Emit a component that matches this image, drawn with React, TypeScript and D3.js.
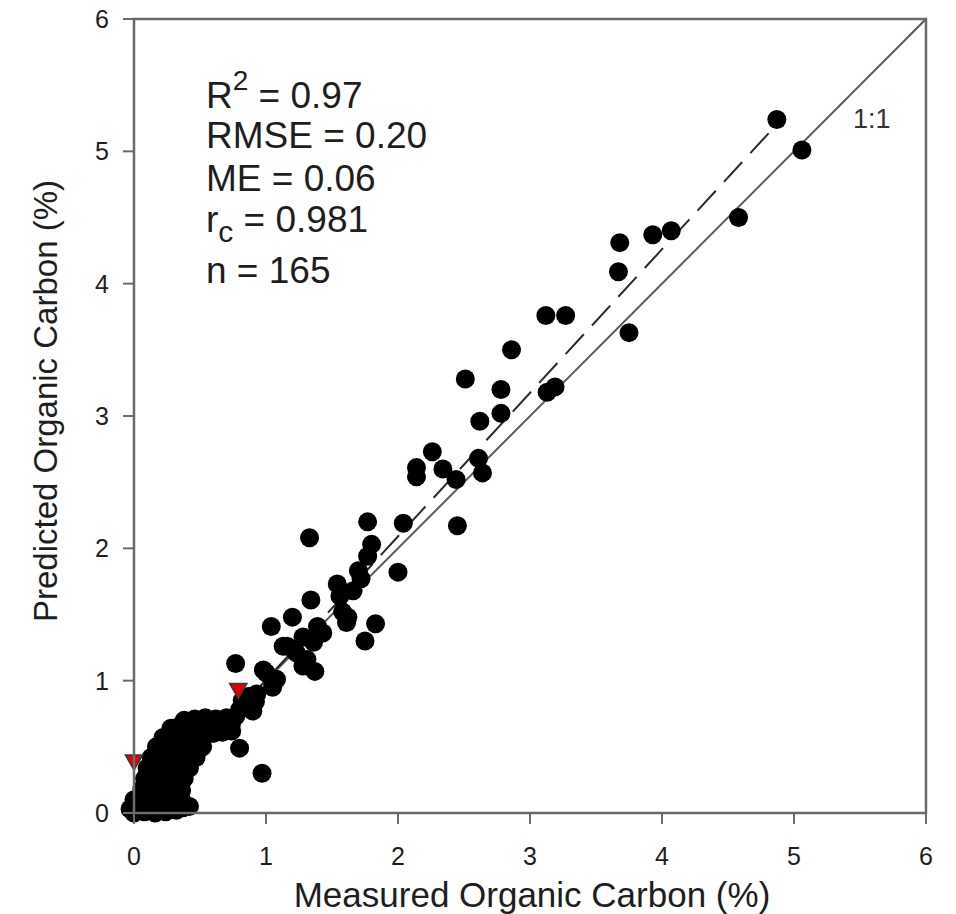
import React from 'react';
import * as d3 from 'd3';

// Measured (x) and predicted (y) organic carbon, %
const measured = [
  4.87, 5.06, 4.58, 3.68, 3.93, 4.07, 3.67, 3.12, 3.27, 3.75,
  2.86, 2.51, 2.78, 3.13, 3.19, 2.62, 2.78, 2.26, 2.14, 2.14,
  2.34, 2.44, 2.61, 2.64, 2.04, 2.45, 2.00, 1.33, 1.77, 1.80,
  1.77, 1.70, 1.72, 1.54, 1.56, 1.34, 1.58, 1.61, 1.83, 1.75,
  1.20, 1.04, 1.39, 1.43, 1.28, 1.13, 1.36, 1.23, 1.37, 1.28,
  0.98, 1.08, 1.05, 0.88, 0.77, 0.97, 1.62, 1.66, 1.16, 1.31,
  1.00, 0.80, 0.92,
  -0.03, 0.00, 0.04, 0.08, 0.12, 0.16, 0.20, 0.24, 0.28, 0.32, 0.37, 0.42,
  0.00, 0.05, 0.10, 0.15, 0.20, 0.25, 0.30,
  0.06, 0.10, 0.14, 0.19, 0.24, 0.30, 0.36,
  0.08, 0.12, 0.17, 0.22, 0.27, 0.33, 0.38,
  0.10, 0.14, 0.19, 0.25, 0.31, 0.37, 0.42,
  0.13, 0.18, 0.23, 0.29, 0.35, 0.41, 0.47,
  0.17, 0.22, 0.28, 0.34, 0.40, 0.46, 0.52,
  0.22, 0.28, 0.34, 0.40, 0.47, 0.54, 0.60, 0.67, 0.74,
  0.28, 0.35, 0.42, 0.50, 0.58, 0.66, 0.74,
  0.38, 0.46, 0.54, 0.62, 0.70, 0.77,
  0.80, 0.85, 0.90,
  0.82, 0.87, 0.93,
  0.05, 0.10, 0.15, 0.20, 0.25, 0.12, 0.18, 0.22, 0.28, 0.20,
  0.24, 0.30, 0.36, 0.44, 0.50, 0.58, 0.64, 0.36,
];
const predicted = [
  5.24, 5.01, 4.50, 4.31, 4.37, 4.40, 4.09, 3.76, 3.76, 3.63,
  3.50, 3.28, 3.20, 3.18, 3.22, 2.96, 3.02, 2.73, 2.61, 2.54,
  2.60, 2.52, 2.68, 2.57, 2.19, 2.17, 1.82, 2.08, 2.20, 2.03,
  1.94, 1.83, 1.77, 1.73, 1.64, 1.61, 1.52, 1.44, 1.43, 1.30,
  1.48, 1.41, 1.41, 1.36, 1.33, 1.26, 1.29, 1.21, 1.07, 1.11,
  1.08, 1.01, 0.95, 0.88, 1.13, 0.30, 1.48, 1.68, 1.26, 1.16,
  1.06, 0.49, 0.84,
  0.03, 0.00, 0.04, 0.01, 0.03, 0.00, 0.02, 0.01, 0.03, 0.02, 0.04, 0.05,
  0.10, 0.12, 0.09, 0.11, 0.10, 0.12, 0.09,
  0.18, 0.20, 0.17, 0.19, 0.18, 0.20, 0.17,
  0.26, 0.28, 0.25, 0.27, 0.26, 0.28, 0.26,
  0.34, 0.36, 0.33, 0.35, 0.34, 0.36, 0.34,
  0.42, 0.44, 0.41, 0.43, 0.42, 0.44, 0.42,
  0.50, 0.52, 0.49, 0.51, 0.50, 0.52, 0.50,
  0.57, 0.59, 0.58, 0.60, 0.59, 0.61, 0.60, 0.61, 0.62,
  0.64, 0.66, 0.65, 0.67, 0.66, 0.67, 0.68,
  0.70, 0.71, 0.72, 0.71, 0.72, 0.73,
  0.78, 0.80, 0.77,
  0.85, 0.88, 0.90,
  0.06, 0.05, 0.06, 0.06, 0.07, 0.14, 0.14, 0.22, 0.30, 0.30,
  0.38, 0.46, 0.54, 0.56, 0.62, 0.68, 0.64, 0.10,
];

// Flagged samples (red triangles)
const flaggedMeasured = [0.0, 0.79];
const flaggedPredicted = [0.40, 0.94];

const xTicks = [0, 1, 2, 3, 4, 5, 6];
const yTicks = [0, 1, 2, 3, 4, 5, 6];

// Fitted regression line (dashed)
const fitSlope = 1.085;
const fitIntercept = -0.08;
const fitRange = [0.07, 4.87];

const xTitle = 'Measured Organic Carbon (%)';
const yTitle = 'Predicted Organic Carbon (%)';

const W = 956;
const H = 914;
const FONT = '"Liberation Sans", Arial, Helvetica, sans-serif';

export default function App() {
  const x = d3.scaleLinear().domain([0, 6]).range([134, 926]);
  const y = d3.scaleLinear().domain([0, 6]).range([813, 19]);
  const [x0, x1] = x.range();
  const [y0, y1] = y.range();

  const line = d3.line<[number, number]>().x((d) => x(d[0])).y((d) => y(d[1]));
  const oneToOne = line([[0, 0], [6, 6]]) || '';
  const fit = line(fitRange.map((v) => [v, fitSlope * v + fitIntercept] as [number, number])) || '';

  const tri = d3.symbol().type(d3.symbolTriangle).size(130)() || '';

  const axisColor = '#6b6b6b';
  const textColor = '#1e1e1e';

  return (
    <svg
      width={W}
      height={H}
      style={{ position: 'absolute', left: 0, top: 0, background: '#fff' }}
      fontFamily={FONT}
    >
      <rect x={0} y={0} width={W} height={H} fill="#fff" />
      {/* 1:1 line */}
      <path d={oneToOne} stroke="#5a5a5a" strokeWidth={2} fill="none" />
      {/* regression line */}
      <path d={fit} stroke="#2a2a2a" strokeWidth={2} fill="none" strokeDasharray="27,12" />

      {/* points */}
      <g fill="#000">
        {measured.map((m, i) => (
          <circle key={i} cx={x(m)} cy={y(predicted[i])} r={9.5} />
        ))}
      </g>
      {flaggedMeasured.map((m, i) => (
        <path
          key={'f' + i}
          d={tri}
          transform={`translate(${x(m)},${y(flaggedPredicted[i])}) rotate(180)`}
          fill="#e00000"
          stroke="#3a3a3a"
          strokeWidth={1.5}
        />
      ))}

      {/* frame */}
      <rect x={x0} y={y1} width={x1 - x0} height={y0 - y1} fill="none" stroke={axisColor} strokeWidth={2.5} />

      {/* x ticks */}
      {xTicks.map((t) => (
        <g key={'xt' + t}>
          <line x1={x(t)} x2={x(t)} y1={y0} y2={y0 + 11} stroke={axisColor} strokeWidth={2} />
          <text x={x(t)} y={865} textAnchor="middle" fontSize={25} fill={textColor}>
            {t}
          </text>
        </g>
      ))}
      {/* y ticks */}
      {yTicks.map((t) => (
        <g key={'yt' + t}>
          <line x1={x0 - 11} x2={x0} y1={y(t)} y2={y(t)} stroke={axisColor} strokeWidth={2} />
          <text x={109} y={y(t)} dy="0.36em" textAnchor="end" fontSize={25} fill={textColor}>
            {t}
          </text>
        </g>
      ))}

      {/* axis titles */}
      <text x={532} y={907} textAnchor="middle" fontSize={35} fill={textColor}>
        {xTitle}
      </text>
      <text
        transform={`translate(57,401) rotate(-90)`}
        textAnchor="middle"
        fontSize={33}
        fill={textColor}
      >
        {yTitle}
      </text>

      {/* 1:1 label */}
      <text x={853} y={128} fontSize={27} fill="#333">1:1</text>

      {/* statistics */}
      <g fontSize={37} fill={textColor}>
        <text x={206} y={108}>
          R<tspan fontSize={28} dy={-18}>2</tspan>
          <tspan dy={18}> = 0.97</tspan>
        </text>
        <text x={206} y={148}>RMSE = 0.20</text>
        <text x={206} y={191}>ME = 0.06</text>
        <text x={206} y={232}>
          r<tspan fontSize={30} dy={10}>c</tspan>
          <tspan dy={-10}> = 0.981</tspan>
        </text>
        <text x={206} y={283}>n = 165</text>
      </g>
    </svg>
  );
}
